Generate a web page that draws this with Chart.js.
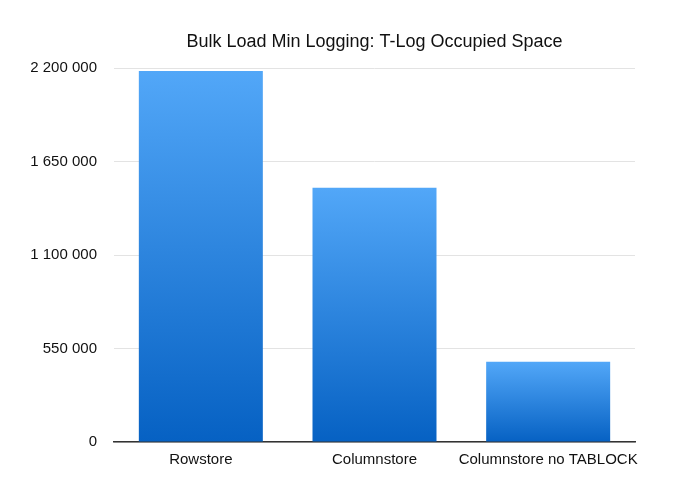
<!DOCTYPE html>
<html>
<head>
<meta charset="utf-8">
<script src="https://cdn.jsdelivr.net/npm/chart.js@4"></script>
<style>
html,body{margin:0;padding:0;background:#fff;}
#wrap{width:700px;height:488px;}
</style>
</head>
<body>
<div id="wrap"><canvas id="c" width="700" height="488"></canvas></div>
<script>
const categories = ["Rowstore", "Columnstore", "Columnstore no TABLOCK"];
const tLogSpace = [2182000, 1495000, 472000];
const yTicks = [0, 550000, 1100000, 1650000, 2200000];
const titleText = "Bulk Load Min Logging: T-Log Occupied Space";
const FONT = "Liberation Sans, Arial, sans-serif";

function fmt(v){ return String(v).replace(/\B(?=(\d{3})+(?!\d))/g, " "); }

function barGradient(ctx){
  const chart = ctx.chart;
  const area = chart.chartArea;
  const ys = chart.scales && chart.scales.y;
  if(!area || !ys || ctx.dataIndex === undefined) return "#3a8fe8";
  const v = ctx.dataset.data[ctx.dataIndex];
  const top = ys.getPixelForValue(v);
  const bottom = area.bottom;
  if(!isFinite(top) || !isFinite(bottom) || top >= bottom) return "#3a8fe8";
  const g = chart.ctx.createLinearGradient(0, top, 0, bottom);
  g.addColorStop(0, "#52a7f8");
  g.addColorStop(1, "#0661c3");
  return g;
}

const centeredTitle = {
  id: "centeredTitle",
  afterDraw(chart){
    const c = chart.ctx, a = chart.chartArea;
    c.save();
    c.font = "18px " + FONT;
    c.fillStyle = "#111";
    c.textAlign = "center";
    c.textBaseline = "alphabetic";
    c.fillText(titleText, (a.left + a.right) / 2, 47);
    c.restore();
  }
};

new Chart(document.getElementById("c"), {
  type: "bar",
  data: {
    labels: categories,
    datasets: [{
      data: tLogSpace,
      backgroundColor: barGradient,
      borderWidth: 0,
      categoryPercentage: 0.714,
      barPercentage: 1.0
    }]
  },
  plugins: [centeredTitle],
  options: {
    responsive: false,
    animation: false,
    devicePixelRatio: 1,
    layout: { padding: { left: 0, right: 65, top: 68, bottom: 10 } },
    plugins: {
      legend: { display: false },
      tooltip: { enabled: false },
      title: { display: false }
    },
    scales: {
      x: {
        grid: { display: false, drawTicks: false },
        border: { display: true, color: "#333", width: 1.5 },
        ticks: { color: "#111", font: { family: FONT, size: 15 }, padding: 9, maxRotation: 0, autoSkip: false }
      },
      y: {
        min: 0,
        max: 2200000,
        afterFit: s => { s.width = 114; },
        afterBuildTicks: s => { s.ticks = yTicks.map(v => ({ value: v })); },
        grid: { color: "#e3e3e3", drawTicks: false, lineWidth: 1 },
        border: { display: false },
        ticks: { color: "#111", font: { family: FONT, size: 15 }, padding: 17, callback: v => fmt(v) }
      }
    }
  }
});
</script>
</body>
</html>
